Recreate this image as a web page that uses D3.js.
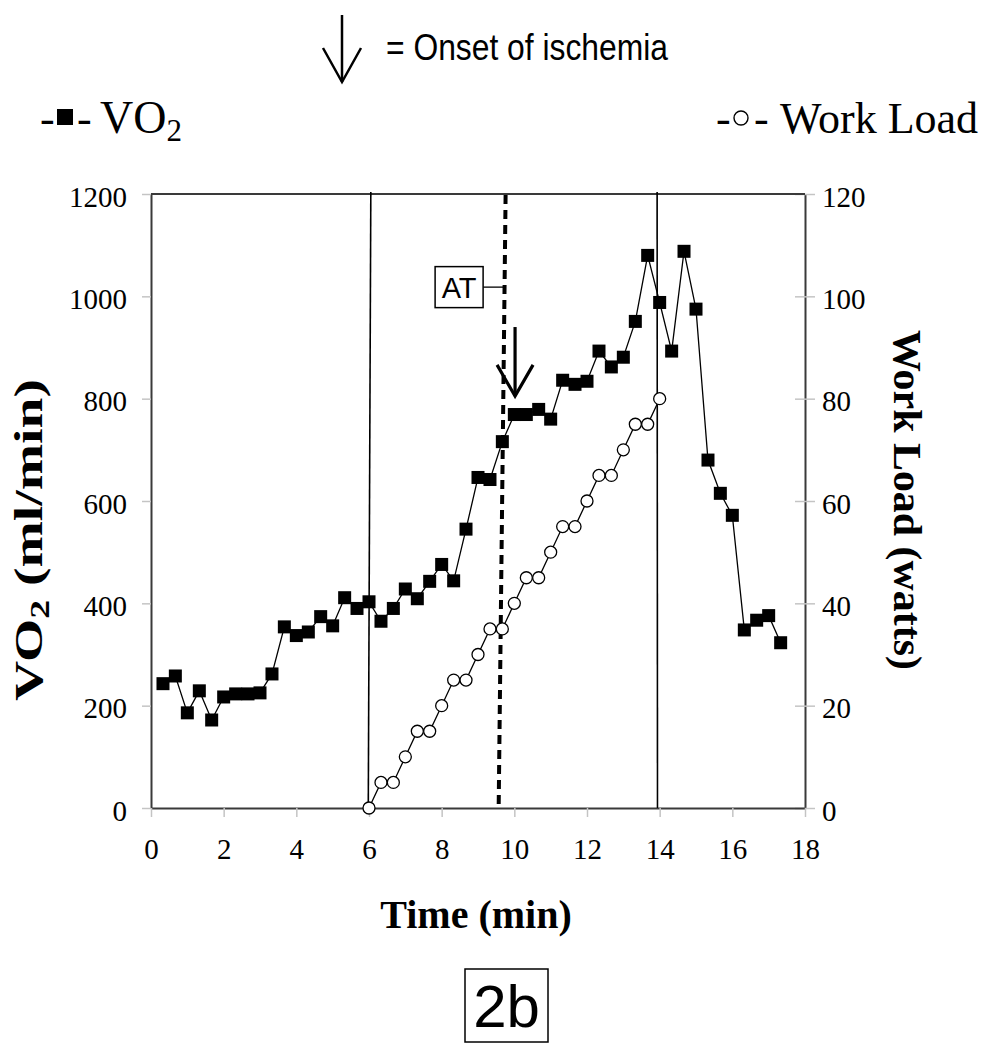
<!DOCTYPE html>
<html><head><meta charset="utf-8">
<script src="https://cdn.jsdelivr.net/npm/d3@7"></script>
<style>body{margin:0;background:#fff}</style>
</head><body>
<svg id="c" width="982" height="1050"></svg>
<script>
// ---------- DATA ----------
const vo2Time = [0.33,0.67,1.00,1.33,1.67,2.00,2.33,2.67,3.00,3.33,3.67,4.00,4.33,4.67,5.00,5.33,5.67,6.00,6.33,6.67,7.00,7.33,7.67,8.00,8.33,8.67,9.00,9.33,9.67,10.00,10.33,10.67,11.00,11.33,11.67,12.00,12.33,12.67,13.00,13.33,13.67,14.00,14.33,14.67,15.00,15.33,15.67,16.00,16.33,16.67,17.00,17.33];
const vo2 = [243,258,186,229,172,217,223,223,225,262,354,337,344,374,356,411,390,403,365,390,428,409,443,476,444,545,646,642,716,769,769,779,760,836,828,834,893,862,881,951,1080,988,893,1088,975,680,615,572,348,367,376,323];
const workTime = [6.00,6.33,6.67,7.00,7.33,7.67,8.00,8.33,8.67,9.00,9.33,9.67,10.00,10.33,10.67,11.00,11.33,11.67,12.00,12.33,12.67,13.00,13.33,13.67,14.00];
const workLoad = [0,5,5,10,15,15,20,25,25,30,35,35,40,45,45,50,55,55,60,65,65,70,75,75,80];
const xTicks = [0,2,4,6,8,10,12,14,16,18];
const leftTicks = [0,200,400,600,800,1000,1200];
const rightTicks = [0,20,40,60,80,100,120];
// exercise start / end markers (time at bottom and top of plot)
const exerciseStart = {tBottom:5.98, tTop:6.05};
const exerciseEnd = {tBottom:13.94, tTop:13.93};
// anaerobic threshold dashed marker and its label
const atLine = {tBottom:9.57, tTop:9.76};
const atLabel = {text:"AT", t:8.48, vo2:1018};
// onset of ischemia arrow
const ischemia = {t:10.02, vo2Top:940, vo2Tip:805, vo2Wing:866};

// ---------- CHART ----------
const svg = d3.select("#c");
const x = d3.scaleLinear().domain([0,18]).range([151,805]);
const yL = d3.scaleLinear().domain([0,1200]).range([808,194]);
const yR = d3.scaleLinear().domain([0,120]).range([808,194]);
const serif = "'Liberation Serif','Times New Roman',serif";
const sans = "'Liberation Sans',Arial,sans-serif";
const narrow = "'Liberation Sans Narrow','Liberation Sans',Arial,sans-serif";
const fmt = d3.format("d");

// axes
const gL = svg.append("g").attr("transform","translate(151,0)")
  .call(d3.axisLeft(yL).tickValues(leftTicks).tickFormat(fmt).tickSize(9).tickPadding(15).tickSizeOuter(0));
const gR = svg.append("g").attr("transform","translate(805,0)")
  .call(d3.axisRight(yR).tickValues(rightTicks).tickFormat(fmt).tickSize(10).tickPadding(7).tickSizeOuter(0));
const gB = svg.append("g").attr("transform","translate(0,808)")
  .call(d3.axisBottom(x).tickValues(xTicks).tickFormat(fmt).tickSize(9).tickPadding(27).tickSizeOuter(0));
[gL,gR,gB].forEach(g=>{
  g.select(".domain").attr("stroke","#3a3a3a").attr("stroke-width",2);
  g.selectAll(".tick line").attr("stroke","#c4c4c4").attr("stroke-width",1.5);
  g.selectAll(".tick text").attr("font-family",serif).attr("font-size",29).attr("fill","#000");
});
gR.selectAll(".tick line").attr("x1",-10);
gL.selectAll(".tick text").attr("dy","0.42em");
gR.selectAll(".tick text").attr("dy","0.42em");
gB.selectAll(".tick text").attr("dy","0.5em");
// top border
svg.append("line").attr("x1",x(0)).attr("x2",x(18)).attr("y1",yL(1200)).attr("y2",yL(1200))
  .attr("stroke","#3a3a3a").attr("stroke-width",2);

// exercise vertical lines
[exerciseStart, exerciseEnd].forEach(m=>{
  svg.append("line").attr("x1",x(m.tBottom)).attr("y1",yL(0)).attr("x2",x(m.tTop)).attr("y2",yL(1200)-2)
    .attr("stroke","#000").attr("stroke-width",1.6);
});
// AT dashed line
svg.append("line").attr("x1",x(atLine.tBottom)).attr("y1",yL(0)-4).attr("x2",x(atLine.tTop)).attr("y2",yL(1200))
  .attr("stroke","#000").attr("stroke-width",4).attr("stroke-dasharray","9,6");

// AT label box + leader
const atX = x(atLabel.t), atY = yL(atLabel.vo2);
const dashXAt = x(atLine.tBottom + (atLine.tTop-atLine.tBottom)*(atLabel.vo2/1200));
svg.append("line").attr("x1",atX+24).attr("x2",dashXAt).attr("y1",atY).attr("y2",atY)
  .attr("stroke","#000").attr("stroke-width",1.3);
svg.append("rect").attr("x",atX-24).attr("y",atY-20.5).attr("width",48).attr("height",41)
  .attr("fill","#fff").attr("stroke","#000").attr("stroke-width",1.5);
svg.append("text").attr("x",atX).attr("y",atY+10.5).attr("text-anchor","middle")
  .attr("font-family",sans).attr("font-size",29).text(atLabel.text);

// series lines
const lineVO2 = d3.line().x((d,i)=>x(vo2Time[i])).y(d=>yL(d));
const lineWork = d3.line().x((d,i)=>x(workTime[i])).y(d=>yR(d));
svg.append("path").datum(workLoad).attr("d",lineWork).attr("fill","none").attr("stroke","#000").attr("stroke-width",1.3);
svg.append("path").datum(vo2).attr("d",lineVO2).attr("fill","none").attr("stroke","#000").attr("stroke-width",1.3);

// markers
svg.append("g").selectAll("rect").data(vo2).join("rect")
  .attr("x",(d,i)=>x(vo2Time[i])-6.5).attr("y",d=>yL(d)-6.5).attr("width",13).attr("height",13).attr("fill","#000");
svg.append("g").selectAll("circle").data(workLoad).join("circle")
  .attr("cx",(d,i)=>x(workTime[i])).attr("cy",d=>yR(d)).attr("r",6)
  .attr("fill","#fff").attr("stroke","#000").attr("stroke-width",1.3);

// ischemia arrow in plot
function arrow(cx, yTop, yTip, yWing, half, sw){
  const g = svg.append("g").attr("stroke","#000").attr("fill","none").attr("stroke-width",sw).attr("stroke-linecap","butt");
  g.append("line").attr("x1",cx).attr("x2",cx).attr("y1",yTop).attr("y2",yTip);
  g.append("path").attr("d",`M${cx-half},${yWing}L${cx},${yTip}L${cx+half},${yWing}`);
}
arrow(x(ischemia.t), yL(ischemia.vo2Top), yL(ischemia.vo2Tip), yL(ischemia.vo2Wing), 18, 3.2);

// top legend
arrow(342, 15, 82, 48, 19, 2.5);
svg.append("text").attr("x",386).attr("y",60).attr("font-family",narrow).attr("font-size",36)
  .attr("textLength",282).attr("lengthAdjust","spacingAndGlyphs").text("= Onset of ischemia");

const legY = 133;
svg.append("text").attr("x",40).attr("y",legY).attr("font-family",serif).attr("font-size",44).text("-");
svg.append("rect").attr("x",57).attr("y",109).attr("width",16).attr("height",16).attr("fill","#000");
svg.append("text").attr("x",77).attr("y",legY).attr("font-family",serif).attr("font-size",44).text("-");
const vt = svg.append("text").attr("x",100).attr("y",legY).attr("font-family",serif).attr("font-size",46).text("VO");
vt.append("tspan").attr("font-size",31).attr("dy",8).text("2");

svg.append("text").attr("x",716).attr("y",legY).attr("font-family",serif).attr("font-size",44).text("-");
svg.append("circle").attr("cx",741).attr("cy",118).attr("r",7).attr("fill","#fff").attr("stroke","#000").attr("stroke-width",1.4);
svg.append("text").attr("x",754).attr("y",legY).attr("font-family",serif).attr("font-size",44).text("-");
svg.append("text").attr("x",780).attr("y",legY).attr("font-family",serif).attr("font-size",44).text("Work Load");

// axis titles
svg.append("text").attr("x",476).attr("y",928).attr("text-anchor","middle")
  .attr("font-family",serif).attr("font-weight","bold").attr("font-size",40).text("Time (min)");
const yt = svg.append("text").attr("transform","translate(42,540) rotate(-90)").attr("text-anchor","middle")
  .attr("font-family",serif).attr("font-weight","bold").attr("font-size",40)
  .attr("textLength",322).attr("lengthAdjust","spacingAndGlyphs");
yt.append("tspan").text("VO");
yt.append("tspan").attr("font-size",27).attr("dy",7).text("2");
yt.append("tspan").attr("dy",-7).text(" (ml/min)");
svg.append("text").attr("transform","translate(894,500) rotate(90)").attr("text-anchor","middle")
  .attr("font-family",serif).attr("font-weight","bold").attr("font-size",40)
  .attr("textLength",340).attr("lengthAdjust","spacingAndGlyphs").text("Work Load (watts)");

// figure label
svg.append("rect").attr("x",465).attr("y",969).attr("width",83).attr("height",73)
  .attr("fill","#fff").attr("stroke","#000").attr("stroke-width",1.5);
svg.append("text").attr("x",506.5).attr("y",1027).attr("text-anchor","middle")
  .attr("font-family",sans).attr("font-size",60).text("2b");
</script>
</body></html>
